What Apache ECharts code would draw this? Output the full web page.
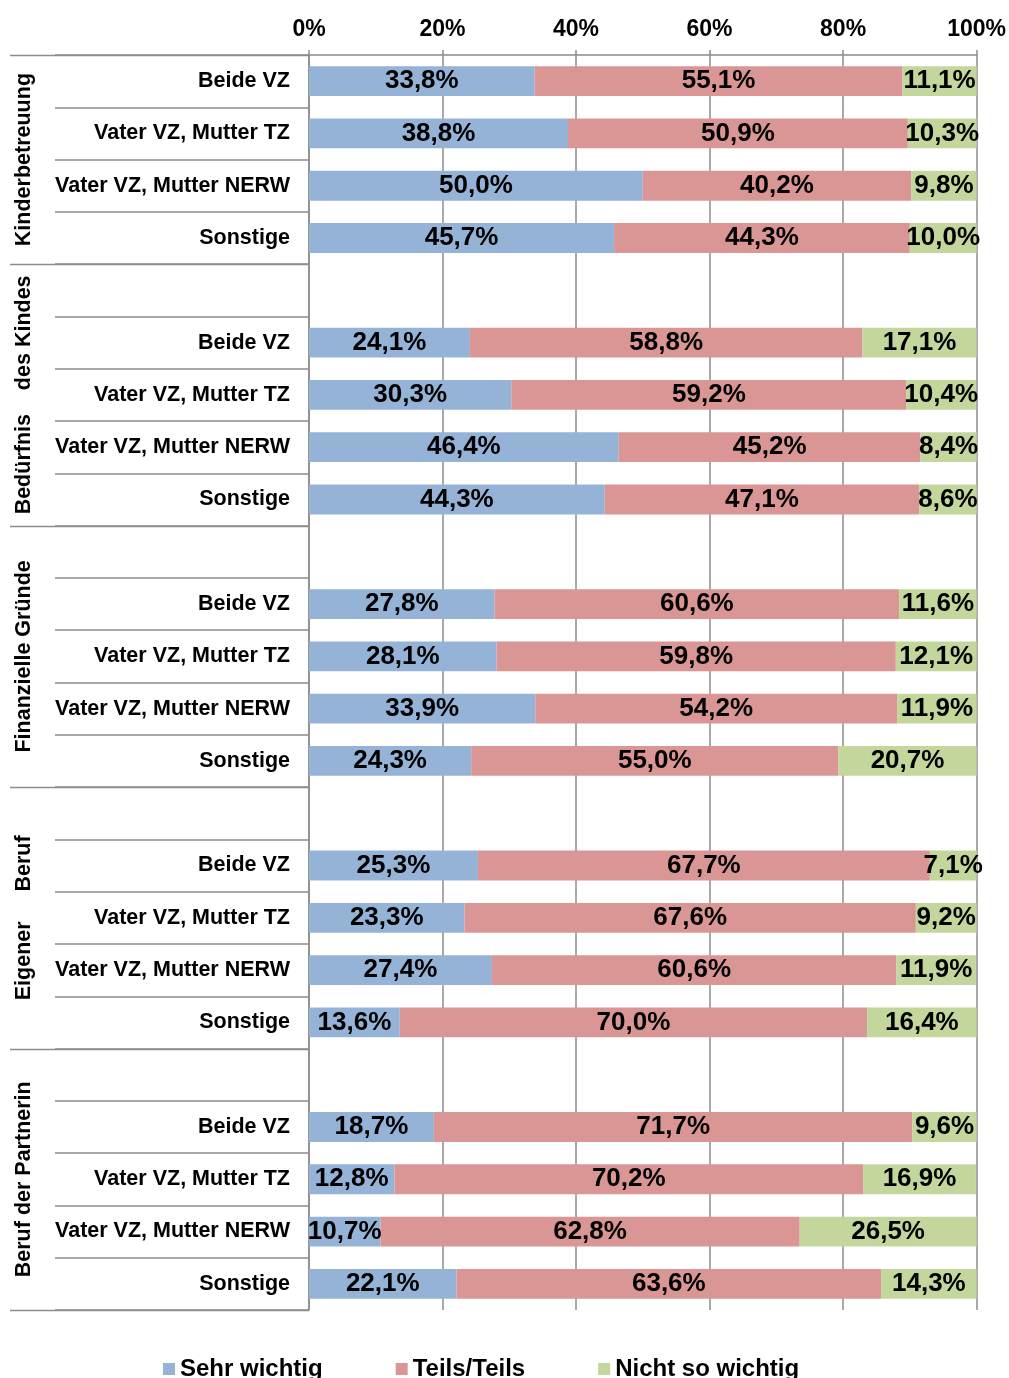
<!DOCTYPE html>
<html>
<head>
<meta charset="utf-8">
<title>Gruende</title>
<script src="https://cdn.jsdelivr.net/npm/echarts@6/dist/echarts.min.js"></script>
<style>
  html, body { margin: 0; padding: 0; background: #fff; }
  #myChart1 { width: 1009px; height: 1378px; }
</style>
</head>
<body>
<div id="myChart1"></div>
<script>
// Zeilen (leere Zeile = Abstand zwischen den Gruppen)
var categories = [
  'Beide VZ', 'Vater VZ, Mutter TZ', 'Vater VZ, Mutter NERW', 'Sonstige',
  '', 'Beide VZ', 'Vater VZ, Mutter TZ', 'Vater VZ, Mutter NERW', 'Sonstige',
  '', 'Beide VZ', 'Vater VZ, Mutter TZ', 'Vater VZ, Mutter NERW', 'Sonstige',
  '', 'Beide VZ', 'Vater VZ, Mutter TZ', 'Vater VZ, Mutter NERW', 'Sonstige',
  '', 'Beide VZ', 'Vater VZ, Mutter TZ', 'Vater VZ, Mutter NERW', 'Sonstige'
]
var groups = ['Kinderbetreuung', 'Bedürfnis    des Kindes', 'Finanzielle Gründe', 'Eigener     Beruf', 'Beruf der Partnerin']
// erster Index jeder Gruppe (Grenzen), letzter Wert = Ende
var groupBounds = [0, 4, 9, 14, 19, 24]

var sehrWichtig = [
  33.8, 38.8, 50.0, 45.7,
  null, 24.1, 30.3, 46.4, 44.3,
  null, 27.8, 28.1, 33.9, 24.3,
  null, 25.3, 23.3, 27.4, 13.6,
  null, 18.7, 12.8, 10.7, 22.1
]
var teilsTeils = [
  55.1, 50.9, 40.2, 44.3,
  null, 58.8, 59.2, 45.2, 47.1,
  null, 60.6, 59.8, 54.2, 55.0,
  null, 67.7, 67.6, 60.6, 70.0,
  null, 71.7, 70.2, 62.8, 63.6
]
var nichtSoWichtig = [
  11.1, 10.3, 9.8, 10.0,
  null, 17.1, 10.4, 8.4, 8.6,
  null, 11.6, 12.1, 11.9, 20.7,
  null, 7.1, 9.2, 11.9, 16.4,
  null, 9.6, 16.9, 26.5, 14.3
]
var xTicks = [0, 20, 40, 60, 80, 100]

var seriesNames = ['Sehr wichtig', 'Teils/Teils', 'Nicht so wichtig']
var colors = ['#95B3D7', '#D99694', '#C3D69B']
var lineColor = '#8c8c8c'
var font = '"Liberation Sans", Arial, sans-serif'

var gridTop = 55
var gridBottom = 68
var gridLeft = 309
var gridRight = 32

function makeSeries (name, data, color) {
  return {
    name: name,
    type: 'bar',
    stack: 'total',
    barWidth: '57%',
    data: data,
    itemStyle: { color: color },
    label: {
      show: true,
      position: 'inside',
      color: '#000',
      fontFamily: font,
      fontWeight: 'bold',
      fontSize: 26,
      formatter: function (p) {
        if (p.value == null) return ''
        return p.value.toFixed(1).replace('.', ',') + '%'
      }
    }
  }
}

var myChart = echarts.init(document.getElementById('myChart1'))
let option = {
  animation: false,
  color: colors,
  grid: {
    left: gridLeft,
    right: gridRight,
    top: gridTop,
    bottom: gridBottom
  },
  legend: {
    left: 158,
    top: 1352,
    icon: 'rect',
    itemWidth: 12,
    itemHeight: 12,
    itemGap: 73,
    textStyle: {
      color: '#000',
      fontFamily: font,
      fontWeight: 'bold',
      fontSize: 24
    },
    data: seriesNames
  },
  xAxis: {
    type: 'value',
    position: 'top',
    min: xTicks[0],
    max: xTicks[xTicks.length - 1],
    interval: xTicks[1] - xTicks[0],
    axisLine: { show: true, lineStyle: { color: lineColor, width: 1.5 } },
    axisTick: { show: true, length: 5, lineStyle: { color: lineColor, width: 1.5 } },
    splitLine: { show: true, lineStyle: { color: lineColor, width: 1.5 } },
    axisLabel: {
      margin: 14,
      color: '#000',
      fontFamily: font,
      fontWeight: 'bold',
      fontSize: 23,
      formatter: '{value}%'
    }
  },
  yAxis: {
    type: 'category',
    inverse: true,
    data: categories,
    axisLine: { show: true, lineStyle: { color: lineColor, width: 1.5 } },
    // Trennlinien zwischen den Zeilen
    axisTick: { show: true, interval: 0, length: 254, lineStyle: { color: lineColor, width: 1.5 } },
    axisLabel: {
      interval: 0,
      margin: 19,
      color: '#000',
      fontFamily: font,
      fontWeight: 'bold',
      fontSize: 21.5
    }
  },
  series: [
    makeSeries(seriesNames[0], sehrWichtig, colors[0]),
    makeSeries(seriesNames[1], teilsTeils, colors[1]),
    makeSeries(seriesNames[2], nichtSoWichtig, colors[2])
  ]
}
myChart.setOption(option, true)

// Gruppenlinien und gedrehte Gruppentitel links
var plotH = 1378 - gridTop - gridBottom
var rowH = plotH / categories.length
var graphics = []
groupBounds.forEach(function (b) {
  var y = Math.round(gridTop + b * rowH) + 0.5
  graphics.push({
    type: 'line',
    shape: { x1: 10, y1: y, x2: gridLeft, y2: y },
    style: { stroke: lineColor, lineWidth: 1.5 }
  })
})
groups.forEach(function (g, i) {
  var yMid = gridTop + (groupBounds[i] + groupBounds[i + 1]) / 2 * rowH
  graphics.push({
    type: 'text',
    x: 24,
    y: yMid,
    rotation: Math.PI / 2,
    style: {
      text: g,
      fill: '#000',
      font: 'bold 21.5px ' + font,
      align: 'center',
      verticalAlign: 'middle'
    }
  })
})
myChart.setOption({ graphic: graphics })
</script>
</body>
</html>
